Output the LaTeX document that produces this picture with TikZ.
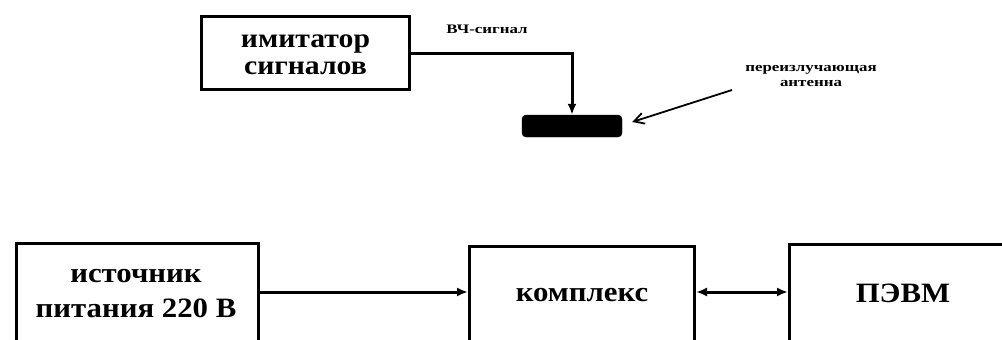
\documentclass[tikz,border=0pt]{standalone}
\usepackage{fontspec}
\setmainfont{Liberation Serif}
\newfontfamily\wideserif[FakeStretch=1.1]{Liberation Serif Bold}
\newfontfamily\widesmall[FakeStretch=1.3]{Liberation Serif Bold}
\usetikzlibrary{arrows.meta}
\begin{document}
\begin{tikzpicture}[x=1pt,y=-1pt,
  box/.style={draw, line width=3pt, anchor=north west, inner sep=0pt},
  lbltop/.style={font=\wideserif\fontsize{27}{27}\selectfont, align=center},
  lbl/.style={font=\wideserif\fontsize{28}{35}\selectfont, align=center},
  small/.style={font=\widesmall\fontsize{13}{15}\selectfont, align=center},
  conn/.style={line width=3pt, -{Latex[length=11pt,width=9pt]}},
  dconn/.style={line width=3pt, {Latex[length=11pt,width=9pt]}-{Latex[length=11pt,width=9pt]}},
  ptr/.style={line width=1.8pt, -{Straight Barb[length=10pt,width=11pt]}}]
\useasboundingbox (0,0) rectangle (1002,340);
\clip (0,0) rectangle (1002,340);
% top part
\node[box, minimum width=208pt, minimum height=73pt] (imit) at (200,15) {};
\node[lbltop] (imitt) at ([yshift=-2pt]imit.center) {имитатор\\сигналов};
\node[fill=black, draw=black, rounded corners=4pt, minimum width=100pt, minimum height=22pt, inner sep=0pt] (ant) at (572,126) {};
\draw[conn] (imit.east) -| (ant.north);
\node[small] (hf) at (487,29) {ВЧ-сигнал};
\node[small] (antlbl) at (811,76) {переизлучающая\\антенна};
\coordinate (ap) at (732,90);
\draw[ptr] (ap) -- ([shift={(10,-4)}]ant.east);
% bottom part
\node[box, minimum width=242pt, minimum height=130pt] (src) at (15,242) {};
\node[lbl] (srct) at (136,294) {источник\\питания 220 В};
\node[box, minimum width=225pt, minimum height=130pt] (cplx) at (468,245) {};
\node[lbl] (cplxt) at (582,295) {комплекс};
\node[box, minimum width=230pt, minimum height=130pt] (pc) at (788,243) {};
\node[lbl] (pct) at (903,293) {ПЭВМ};
\coordinate (lv) at (0,292);
\draw[conn] (src.east |- lv) -- (cplx.west |- lv);
\draw[dconn] (cplx.east |- lv) -- (pc.west |- lv);
\end{tikzpicture}
\end{document}
